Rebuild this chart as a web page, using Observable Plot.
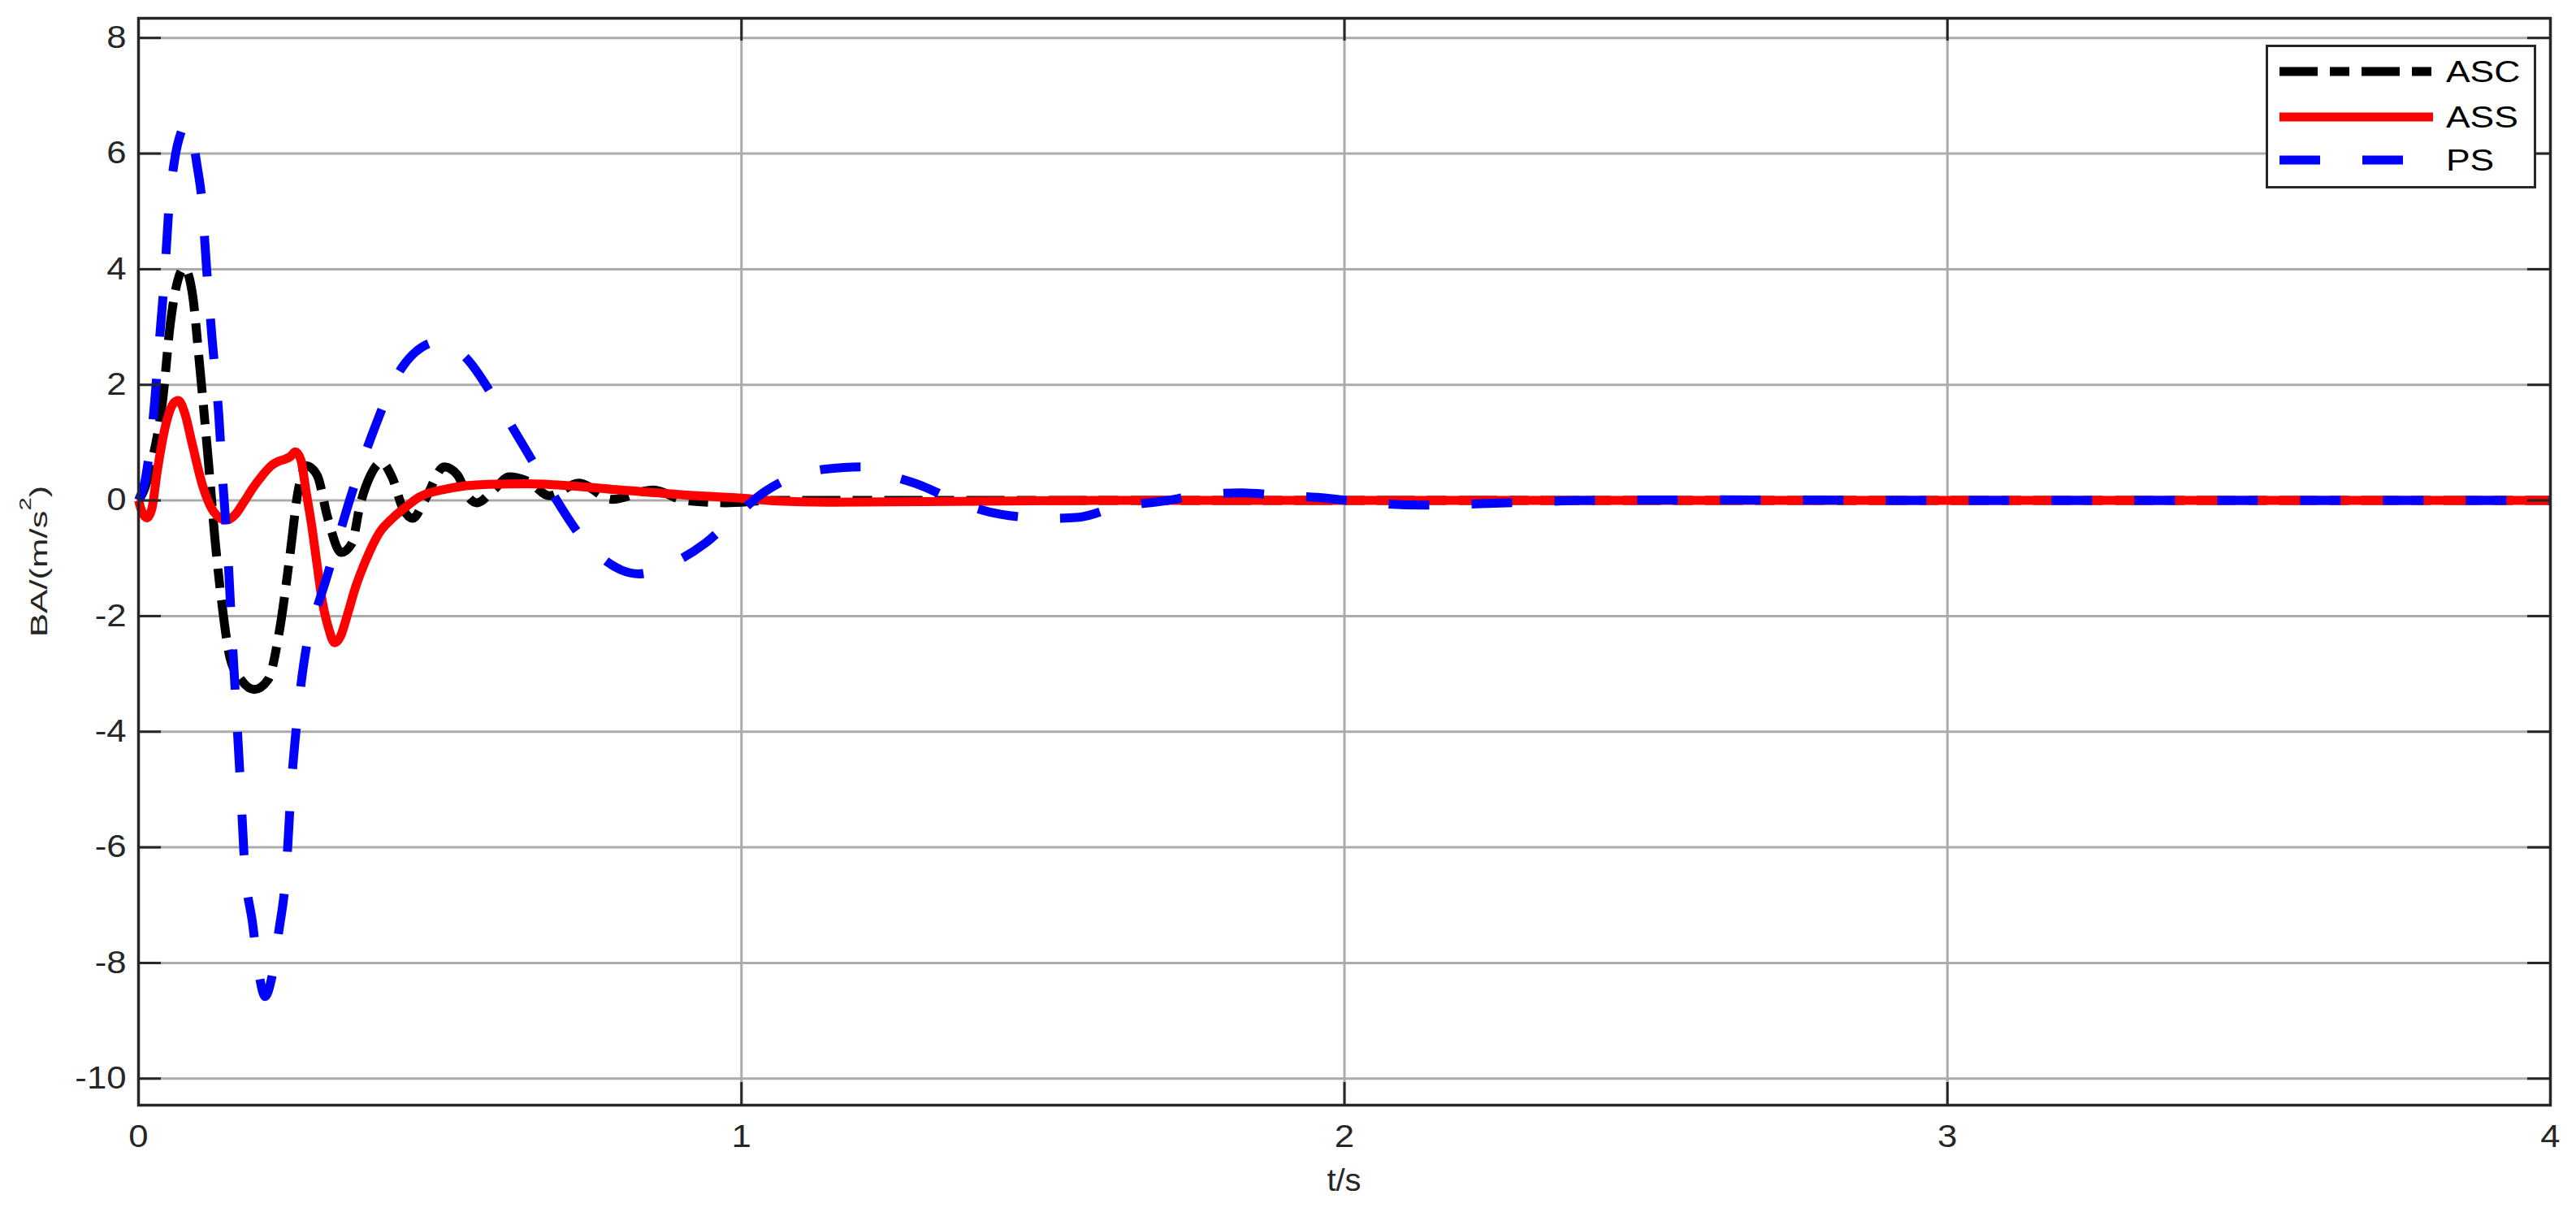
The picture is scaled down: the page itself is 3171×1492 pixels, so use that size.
<!DOCTYPE html>
<html><head><meta charset="utf-8">
<script src="https://cdn.jsdelivr.net/npm/d3@7"></script>
<script src="https://cdn.jsdelivr.net/npm/@observablehq/plot@0.6"></script>
<style>
html,body{margin:0;padding:0;background:#fff;overflow:hidden;}
#wrap{position:relative;width:3171px;height:1492px;}
#legend{position:absolute;left:2789px;top:55px;}
</style></head><body><div id="wrap"></div>
<script>
// ---- data ----
const xTicks = [0, 1, 2, 3, 4];
const yTicks = [-10, -8, -6, -4, -2, 0, 2, 4, 6, 8];
const seriesNames = ["ASC", "ASS", "PS"];

const ascT = [0, 0.01, 0.022, 0.04, 0.053, 0.065, 0.076, 0.089, 0.102, 0.116, 0.127, 0.138, 0.152, 0.17, 0.192, 0.215, 0.233, 0.251, 0.264, 0.278, 0.296, 0.314, 0.336, 0.354, 0.367, 0.385, 0.403, 0.421, 0.439, 0.455, 0.475, 0.507, 0.529, 0.547, 0.561, 0.588, 0.615, 0.646, 0.682, 0.73, 0.785, 0.854, 0.906, 0.974, 1.05, 1.2, 1.5, 2, 3, 4];
const ascV = [0, 0.2, 0.66, 1.73, 3.08, 3.8, 4.02, 3.6, 2.27, 0.66, -0.69, -1.76, -2.73, -3.1, -3.27, -3.1, -2.3, -0.96, 0.12, 0.6, 0.44, -0.31, -0.9, -0.74, -0.1, 0.44, 0.66, 0.39, -0.15, -0.31, 0.01, 0.58, 0.44, 0.06, -0.04, 0.17, 0.41, 0.33, 0.08, 0.3, 0.02, 0.18, 0, -0.04, 0, 0, 0, 0, 0, 0];

const assT = [0, 0.006, 0.014, 0.022, 0.031, 0.045, 0.058, 0.066, 0.077, 0.089, 0.107, 0.125, 0.145, 0.16, 0.174, 0.19, 0.206, 0.22, 0.233, 0.242, 0.252, 0.26, 0.269, 0.278, 0.287, 0.296, 0.305, 0.315, 0.325, 0.335, 0.345, 0.36, 0.376, 0.4, 0.421, 0.445, 0.466, 0.511, 0.579, 0.646, 0.72, 0.8, 0.9, 1.0, 1.06, 1.15, 1.3, 1.6, 2, 3, 4];
const assV = [0, -0.2, -0.3, -0.15, 0.5, 1.3, 1.68, 1.73, 1.5, 0.98, 0.23, -0.2, -0.34, -0.25, -0.04, 0.22, 0.44, 0.6, 0.68, 0.71, 0.76, 0.84, 0.71, 0.15, -0.42, -1.1, -1.76, -2.2, -2.46, -2.35, -2.03, -1.5, -1.06, -0.55, -0.31, -0.1, 0.06, 0.2, 0.28, 0.29, 0.25, 0.18, 0.1, 0.04, -0.01, -0.03, -0.02, 0, 0, 0, 0];

const psT = [0, 0.01, 0.025, 0.035, 0.044, 0.05, 0.06, 0.07, 0.079, 0.088, 0.097, 0.105, 0.113, 0.122, 0.133, 0.14, 0.148, 0.155, 0.162, 0.169, 0.176, 0.189, 0.2, 0.21, 0.22, 0.232, 0.245, 0.253, 0.262, 0.279, 0.295, 0.313, 0.33, 0.35, 0.386, 0.437, 0.47, 0.5, 0.54, 0.6, 0.67, 0.74, 0.8, 0.83, 0.87, 0.94, 0.99, 1.04, 1.1, 1.17, 1.2, 1.23, 1.3, 1.36, 1.43, 1.51, 1.56, 1.62, 1.7, 1.76, 1.83, 1.89, 1.97, 2.03, 2.13, 2.27, 2.4, 2.6, 3, 4];
const psV = [0, 0.3, 1.5, 2.8, 4.0, 5.0, 5.9, 6.35, 6.52, 6.35, 5.8, 5.2, 4.0, 2.8, 1.5, 0.3, -0.9, -2.3, -3.6, -4.9, -6.3, -7.3, -8.2, -8.58, -8.3, -7.5, -6.4, -5.0, -3.9, -2.5, -1.9, -1.3, -0.7, 0, 1.1, 2.3, 2.65, 2.75, 2.5, 1.6, 0.4, -0.7, -1.2, -1.27, -1.15, -0.74, -0.27, 0.16, 0.46, 0.57, 0.58, 0.48, 0.25, -0.03, -0.24, -0.31, -0.29, -0.12, -0.01, 0.09, 0.13, 0.09, 0.04, -0.03, -0.08, -0.04, 0, 0.01, 0, 0];

// ---- layout / style ----
const W = 3171, H = 1492, mL = 170, mR = 32, mT = 22, mB = 132;
const xDom = [0, 4], yDom = [-10.46, 8.34];
const pxX = (W - mL - mR) / (xDom[1] - xDom[0]);
const pxY = (H - mT - mB) / (yDom[1] - yDom[0]);
const tickLen = 28, tx = tickLen / pxX, ty = tickLen / pxY;
const gridC = "#ababab", axisC = "#262626";
const font = "'Liberation Sans', Arial, Helvetica, sans-serif";

const styles = [
  {stroke: "#000000", dash: "47,15,24,15"},
  {stroke: "#ff0000", dash: null},
  {stroke: "#0000ff", dash: "50,52"}
];
const seriesData = [[ascT, ascV], [assT, assV], [psT, psV]];
const rows = (T, V) => T.map((t, i) => ({t, v: V[i]}));

const lineMarks = seriesData.map(([T, V], i) =>
  Plot.line(rows(T, V), {
    x: "t", y: "v",
    stroke: styles[i].stroke,
    strokeWidth: 11,
    strokeDasharray: styles[i].dash,
    strokeLinecap: "butt",
    strokeLinejoin: "round",
    curve: "monotone-x"
  })
);

const chart = Plot.plot({
  width: W, height: H,
  marginLeft: mL, marginRight: mR, marginTop: mT, marginBottom: mB,
  style: {fontFamily: font, fontSize: "38px", background: "#fff", color: axisC, overflow: "visible"},
  x: {domain: xDom},
  y: {domain: yDom},
  marks: [
    Plot.ruleY(yTicks, {stroke: gridC, strokeWidth: 3}),
    Plot.ruleX(xTicks, {stroke: gridC, strokeWidth: 3}),
    ...lineMarks,
    Plot.ruleY(yTicks, {x1: xDom[0], x2: xDom[0] + tx, stroke: axisC, strokeWidth: 3}),
    Plot.ruleY(yTicks, {x1: xDom[1] - tx, x2: xDom[1], stroke: axisC, strokeWidth: 3}),
    Plot.ruleX(xTicks, {y1: yDom[0], y2: yDom[0] + ty, stroke: axisC, strokeWidth: 3}),
    Plot.ruleX(xTicks, {y1: yDom[1] - ty, y2: yDom[1], stroke: axisC, strokeWidth: 3}),
    Plot.frame({stroke: axisC, strokeWidth: 3.5}),
    Plot.axisY(yTicks, {anchor: "left", tickSize: 0, tickPadding: 15, fontSize: 38, tickFormat: d => String(d), label: null}),
    Plot.axisX(xTicks, {anchor: "bottom", tickSize: 0, tickPadding: 25, fontSize: 38, tickFormat: d => String(d), label: null})
  ]
});

const wrap = document.getElementById("wrap");
wrap.appendChild(chart);

const svg = d3.select(chart);
// slightly wide glyphs as in the reference
svg.selectAll('g[aria-label$="tick label"] text').each(function () {
  const t = this.getAttribute("transform") || "";
  this.setAttribute("transform", t + " scale(1.15,1)");
});

// axis labels
svg.append("text")
  .attr("transform", `translate(${(mL + W - mR) / 2},1466) scale(1.05,1)`)
  .attr("text-anchor", "middle")
  .attr("font-family", font).attr("font-size", 38).attr("fill", axisC)
  .text("t/s");
const yl = svg.append("text")
  .attr("transform", `translate(58,${(mT + H - mB) / 2}) rotate(-90) scale(1.46,1)`)
  .attr("text-anchor", "middle")
  .attr("font-family", font).attr("font-size", 30).attr("fill", axisC);
yl.append("tspan").text("BA/(m/s");
yl.append("tspan").attr("font-size", 20).attr("dy", -20).text("2");
yl.append("tspan").attr("dy", 20).text(")");

// legend
const lg = d3.select(wrap).append("svg").attr("id", "legend")
  .attr("width", 334).attr("height", 178);
lg.append("rect").attr("x", 1.5).attr("y", 1.5).attr("width", 330).attr("height", 174)
  .attr("fill", "#fff").attr("stroke", axisC).attr("stroke-width", 3);
const rowsY = [33, 89, 142];
seriesNames.forEach((name, i) => {
  lg.append("line").attr("x1", 17).attr("x2", 206).attr("y1", rowsY[i]).attr("y2", rowsY[i])
    .attr("stroke", styles[i].stroke).attr("stroke-width", 11)
    .attr("stroke-dasharray", styles[i].dash);
  lg.append("text").attr("transform", `translate(222,${rowsY[i] + 13}) scale(1.2,1)`)
    .attr("font-family", font).attr("font-size", 37).attr("fill", "#000")
    .text(name);
});
</script></body></html>
